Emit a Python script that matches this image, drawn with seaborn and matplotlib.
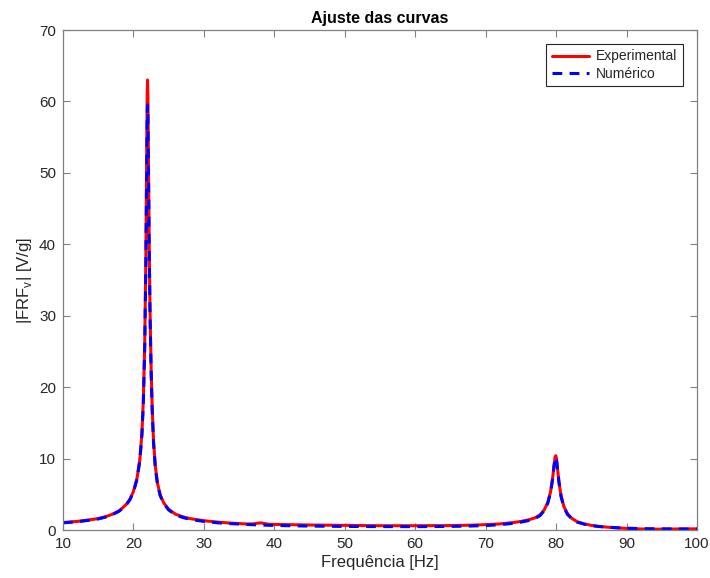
import numpy as np
import pandas as pd
import matplotlib
matplotlib.use("Agg")
import matplotlib.pyplot as plt
import seaborn as sns

freq = [10, 12, 14, 15, 16, 17, 18, 19, 19.5, 20, 20.5, 20.9, 21.2, 21.4, 21.6, 21.75,
        21.85, 21.95, 22.0, 22.05, 22.15, 22.25, 22.35, 22.5, 22.65, 22.85, 23.1, 23.4,
        23.8, 24.3, 25, 26, 27, 28, 29, 30, 32, 34, 36, 37, 37.6, 38.1, 38.6, 39.2, 40,
        42, 45, 50, 55, 60, 65, 68, 70, 72, 74, 75, 76, 77, 77.7, 78.3, 78.8, 79.2, 79.5,
        79.7, 79.85, 79.95, 80.05, 80.2, 80.4, 80.7, 81.1, 81.6, 82.2, 83, 84, 85, 86,
        87.5, 89, 90, 91, 93, 95, 97, 100]

experimental = [1.05, 1.2, 1.45, 1.6, 1.85, 2.2, 2.7, 3.6, 4.3, 5.4, 7.2, 9.8, 13.5, 18,
                26, 37, 49, 61, 63, 61, 50, 39, 31, 23, 17.5, 12.5, 9, 6.6, 4.9, 3.8, 2.9,
                2.2, 1.85, 1.6, 1.45, 1.3, 1.1, 0.95, 0.85, 0.85, 0.95, 1.0, 0.9, 0.8, 0.78,
                0.75, 0.7, 0.65, 0.6, 0.6, 0.62, 0.68, 0.75, 0.85, 1.05, 1.2, 1.4, 1.7, 2.1,
                2.8, 3.8, 5.3, 7.2, 9.0, 10.2, 10.4, 10.0, 8.6, 6.8, 4.8, 3.3, 2.3, 1.65,
                1.15, 0.85, 0.65, 0.5, 0.38, 0.28, 0.22, 0.17, 0.12, 0.12, 0.14, 0.16]

numerico = [1.0, 1.15, 1.4, 1.55, 1.8, 2.15, 2.65, 3.55, 4.25, 5.3, 7.1, 9.7, 13.3, 17.7,
            25.5, 36, 47, 58, 59.5, 58, 48, 38, 30.5, 22.5, 17, 12.2, 8.8, 6.5, 4.8, 3.7,
            2.8, 2.1, 1.75, 1.5, 1.35, 1.2, 1.0, 0.88, 0.78, 0.74, 0.72, 0.7, 0.68, 0.66,
            0.64, 0.6, 0.55, 0.5, 0.48, 0.47, 0.5, 0.56, 0.62, 0.74, 0.95, 1.1, 1.3, 1.6,
            2.0, 2.7, 3.7, 5.2, 7.1, 8.9, 10.0, 10.2, 9.8, 8.5, 6.7, 4.7, 3.2, 2.2, 1.6,
            1.1, 0.82, 0.63, 0.5, 0.38, 0.3, 0.26, 0.22, 0.18, 0.16, 0.14, 0.13]

x_ticks = [10, 20, 30, 40, 50, 60, 70, 80, 90, 100]
y_ticks = [0, 10, 20, 30, 40, 50, 60, 70]

sns.set_theme(style="white")
plt.rcParams['font.family'] = ['Liberation Sans', 'DejaVu Sans']
plt.rcParams['mathtext.fontset'] = 'custom'
plt.rcParams['mathtext.rm'] = 'Liberation Sans'

fig = plt.figure(figsize=(7.10, 5.78), dpi=100)
ax = fig.add_axes([63/710, 1 - 530/578, 634/710, 500/578])

df = pd.DataFrame({"f": freq, "exp": experimental, "num": numerico})
sns.lineplot(data=df, x="f", y="exp", ax=ax, color="#ff0000", linewidth=2.2,
             label="Experimental", estimator=None, sort=False)
sns.lineplot(data=df, x="f", y="num", ax=ax, color="#0000ff", linewidth=2.2,
             linestyle=(0, (3.2, 2.4)), label="Numérico", estimator=None, sort=False)

ax.set_xlim(10, 100)
ax.set_ylim(0, 70)
ax.set_xticks(x_ticks)
ax.set_yticks(y_ticks)
text_c = "#262626"
ax.tick_params(direction="in", length=5, width=0.8, colors="#808080",
               labelcolor=text_c, labelsize=11, top=True, right=True,
               bottom=True, left=True, pad=5)
for s in ax.spines.values():
    s.set_color("#808080")
    s.set_linewidth(0.9)

ax.set_xlabel("Frequência [Hz]", fontsize=12, color=text_c, labelpad=3)
ax.set_ylabel(r"|FRF$_\mathregular{v}$| [V/g]", fontsize=12, color=text_c, labelpad=4)
ax.set_title("Ajuste das curvas", fontsize=11.5, fontweight="bold", color="#000000", pad=5)

leg = ax.legend(loc="upper right", fontsize=10, frameon=True, fancybox=False,
                framealpha=1, edgecolor="#262626", borderaxespad=1.0,
                handlelength=2.7, handletextpad=0.5, borderpad=0.4, labelspacing=0.25)
leg.get_frame().set_linewidth(0.8)

fig.savefig("out.png", dpi=100)
